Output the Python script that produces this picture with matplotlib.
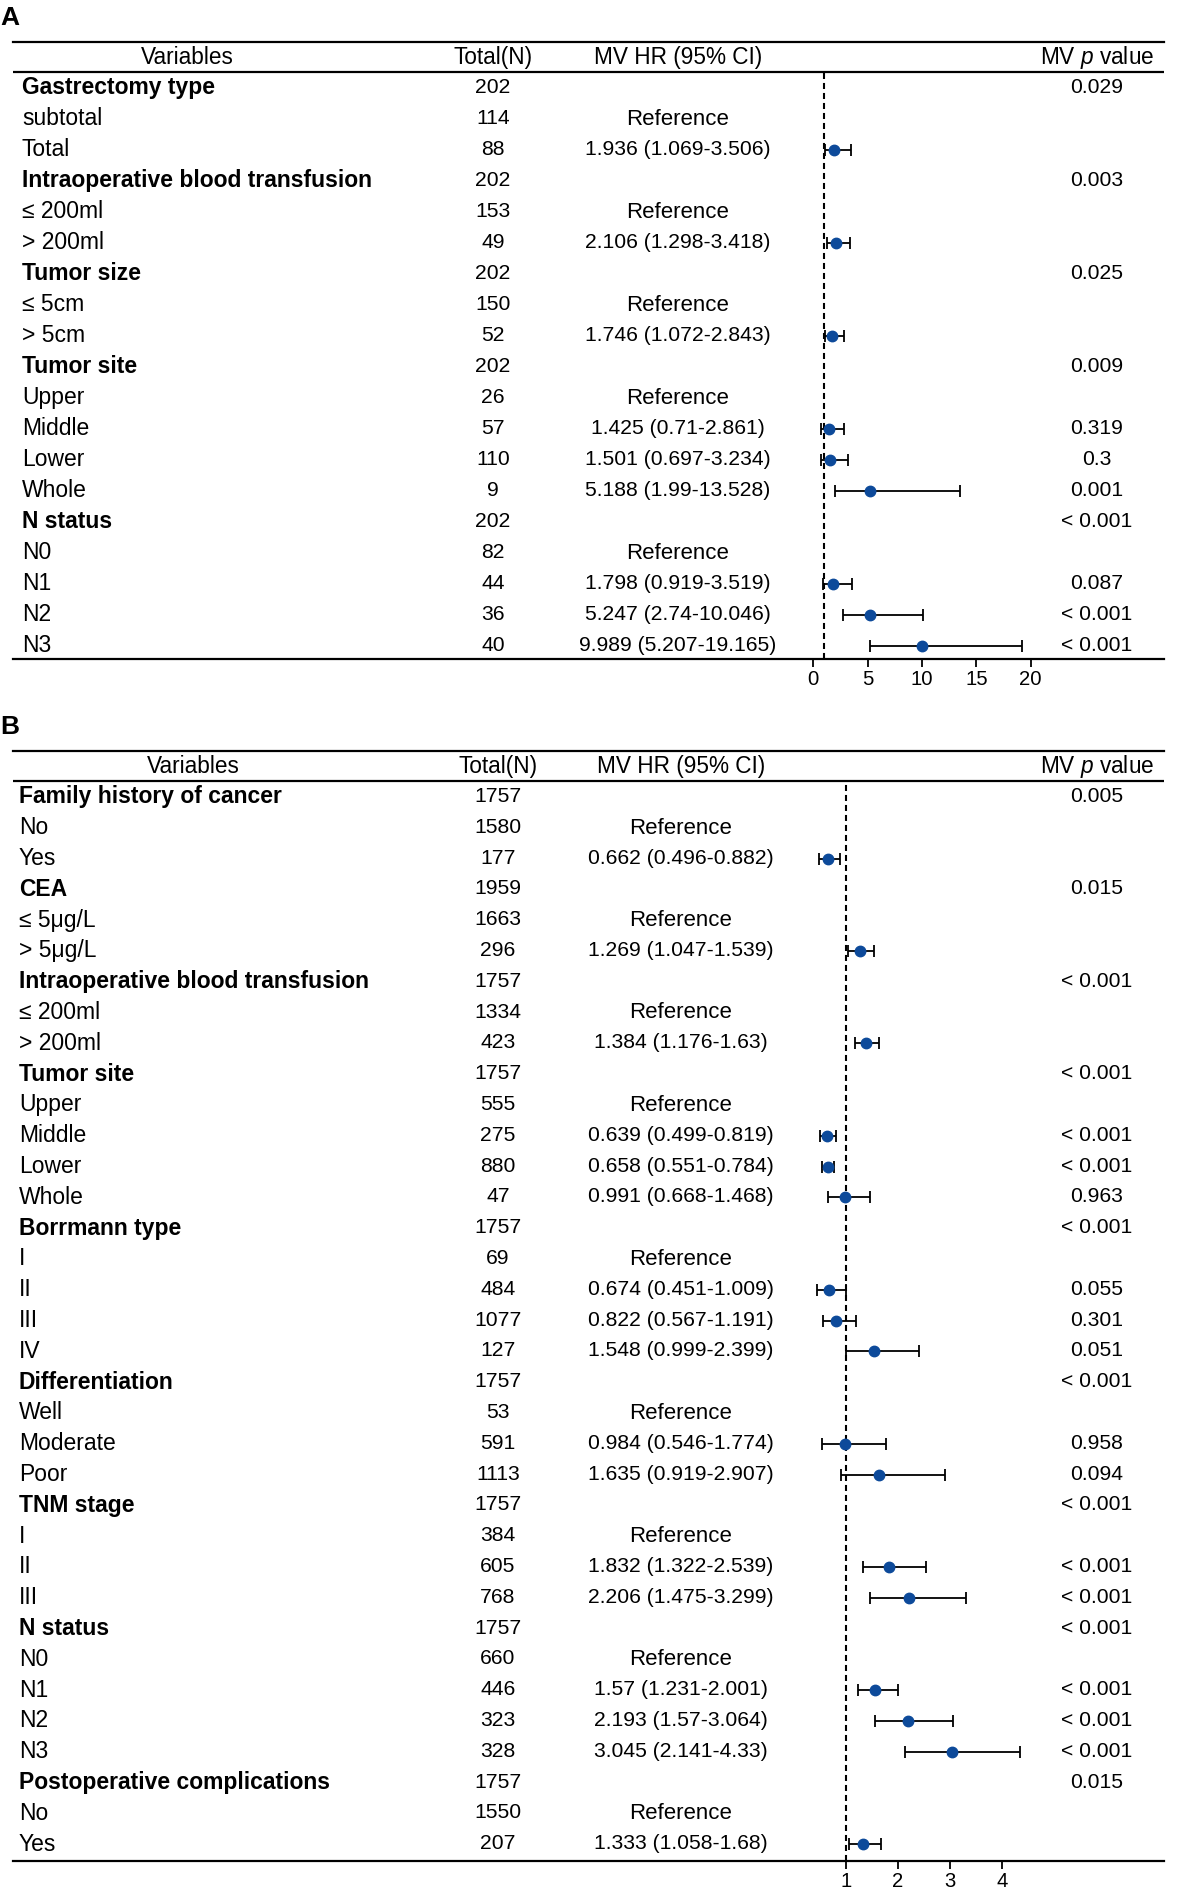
import numpy as np
import matplotlib
matplotlib.use("Agg")
import matplotlib.pyplot as plt
from matplotlib import transforms

plt.rcParams['font.family'] = ['Liberation Sans', 'DejaVu Sans']
plt.rcParams['mathtext.fontset'] = 'custom'
plt.rcParams['mathtext.it'] = 'Liberation Sans:italic'
plt.rcParams['mathtext.rm'] = 'Liberation Sans'

# ---------------- panel A data ----------------
labels_a = ["Gastrectomy type", "subtotal", "Total",
            "Intraoperative blood transfusion", "\u2264 200ml", "> 200ml",
            "Tumor size", "\u2264 5cm", "> 5cm",
            "Tumor site", "Upper", "Middle", "Lower", "Whole",
            "N status", "N0", "N1", "N2", "N3"]
kind_a = ["g", "r", "e", "g", "r", "e", "g", "r", "e",
          "g", "r", "e", "e", "e", "g", "r", "e", "e", "e"]
n_a = [202, 114, 88, 202, 153, 49, 202, 150, 52, 202, 26, 57, 110, 9,
       202, 82, 44, 36, 40]
hr_a = [np.nan, np.nan, 1.936, np.nan, np.nan, 2.106, np.nan, np.nan, 1.746,
        np.nan, np.nan, 1.425, 1.501, 5.188, np.nan, np.nan, 1.798, 5.247, 9.989]
lo_a = [np.nan, np.nan, 1.069, np.nan, np.nan, 1.298, np.nan, np.nan, 1.072,
        np.nan, np.nan, 0.71, 0.697, 1.99, np.nan, np.nan, 0.919, 2.74, 5.207]
hi_a = [np.nan, np.nan, 3.506, np.nan, np.nan, 3.418, np.nan, np.nan, 2.843,
        np.nan, np.nan, 2.861, 3.234, 13.528, np.nan, np.nan, 3.519, 10.046, 19.165]
p_a = ["0.029", "", "", "0.003", "", "", "0.025", "", "",
       "0.009", "", "0.319", "0.3", "0.001", "< 0.001", "", "0.087", "< 0.001", "< 0.001"]
ticks_a = [0, 5, 10, 15, 20]

# ---------------- panel B data ----------------
labels_b = ["Family history of cancer", "No", "Yes",
            "CEA", "\u2264 5\u03bcg/L", "> 5\u03bcg/L",
            "Intraoperative blood transfusion", "\u2264 200ml", "> 200ml",
            "Tumor site", "Upper", "Middle", "Lower", "Whole",
            "Borrmann type", "I", "II", "III", "IV",
            "Differentiation", "Well", "Moderate", "Poor",
            "TNM stage", "I", "II", "III",
            "N status", "N0", "N1", "N2", "N3",
            "Postoperative complications", "No", "Yes"]
kind_b = ["g", "r", "e", "g", "r", "e", "g", "r", "e",
          "g", "r", "e", "e", "e", "g", "r", "e", "e", "e",
          "g", "r", "e", "e", "g", "r", "e", "e",
          "g", "r", "e", "e", "e", "g", "r", "e"]
n_b = [1757, 1580, 177, 1959, 1663, 296, 1757, 1334, 423,
       1757, 555, 275, 880, 47, 1757, 69, 484, 1077, 127,
       1757, 53, 591, 1113, 1757, 384, 605, 768,
       1757, 660, 446, 323, 328, 1757, 1550, 207]
hr_b = [np.nan, np.nan, 0.662, np.nan, np.nan, 1.269, np.nan, np.nan, 1.384,
        np.nan, np.nan, 0.639, 0.658, 0.991, np.nan, np.nan, 0.674, 0.822, 1.548,
        np.nan, np.nan, 0.984, 1.635, np.nan, np.nan, 1.832, 2.206,
        np.nan, np.nan, 1.57, 2.193, 3.045, np.nan, np.nan, 1.333]
lo_b = [np.nan, np.nan, 0.496, np.nan, np.nan, 1.047, np.nan, np.nan, 1.176,
        np.nan, np.nan, 0.499, 0.551, 0.668, np.nan, np.nan, 0.451, 0.567, 0.999,
        np.nan, np.nan, 0.546, 0.919, np.nan, np.nan, 1.322, 1.475,
        np.nan, np.nan, 1.231, 1.57, 2.141, np.nan, np.nan, 1.058]
hi_b = [np.nan, np.nan, 0.882, np.nan, np.nan, 1.539, np.nan, np.nan, 1.63,
        np.nan, np.nan, 0.819, 0.784, 1.468, np.nan, np.nan, 1.009, 1.191, 2.399,
        np.nan, np.nan, 1.774, 2.907, np.nan, np.nan, 2.539, 3.299,
        np.nan, np.nan, 2.001, 3.064, 4.33, np.nan, np.nan, 1.68]
p_b = ["0.005", "", "", "0.015", "", "", "< 0.001", "", "",
       "< 0.001", "", "< 0.001", "< 0.001", "0.963", "< 0.001", "", "0.055", "0.301", "0.051",
       "< 0.001", "", "0.958", "0.094", "< 0.001", "", "< 0.001", "< 0.001",
       "< 0.001", "", "< 0.001", "< 0.001", "< 0.001", "0.015", "", ""]
ticks_b = [1, 2, 3, 4]

W, H = 1181, 1889
FS_LAB = 16.5   # variable names
FS_HEAD = 16.3  # column headers
FS_REF = 16     # "Reference"
FS_NUM = 15.2   # numbers
DOT = '#0d4a9a'

fig = plt.figure(figsize=(W / 100, H / 100), dpi=100)


def panel(letter, labels, kind, n, hr, lo, hi, p, ticks,
          top, bottom, row0, step, x0px, pxunit, cols):
    # cols: label x, N centre, HR centre, p centre, Variables header centre (pixels)
    left_px, right_px = 13, 1164
    ax = fig.add_axes([left_px / W, 1 - bottom / H, (right_px - left_px) / W, (bottom - top) / H])
    ax.set_xlim((left_px - x0px) / pxunit, (right_px - x0px) / pxunit)
    ax.set_ylim((bottom - row0) / step, (top - row0) / step)
    for s in ['left', 'right']:
        ax.spines[s].set_visible(False)
    ax.spines['top'].set_linewidth(1.6)
    ax.spines['bottom'].set_linewidth(1.6)
    ax.set_yticks([])
    ax.set_xticks(ticks)
    ax.tick_params(axis='x', length=6, width=1.3, pad=2, labelsize=14.6)
    ax.axhline((top + 30 - row0) / step, color='black', lw=1.6)

    y = np.arange(len(labels))
    hr = np.array(hr)
    lo = np.array(lo)
    hi = np.array(hi)
    ok = ~np.isnan(hr)
    ax.axvline(1, ymin=0, ymax=1 - (31 / (bottom - top)), color='black', lw=1.5,
               linestyle=(0, (2.9, 1.9)), zorder=1)
    ax.errorbar(hr[ok], y[ok], xerr=[hr[ok] - lo[ok], hi[ok] - hr[ok]], fmt='none',
                ecolor='black', elinewidth=1.3, capsize=4, capthick=1.3, zorder=2)
    ax.plot(hr[ok], y[ok], 'o', color=DOT, markersize=7.5, zorder=3)

    tr = transforms.blended_transform_factory(fig.transFigure, ax.transData)
    base = 8.0 / step          # baseline sits this far below the row centre
    hy = (top + 14 - row0) / step + base
    kw = dict(transform=tr, va='baseline', fontsize=FS_HEAD)
    ax.text(cols[4] / W, hy, "Variables", ha='center', **kw)
    ax.text(cols[1] / W, hy, "Total(N)", ha='center', **kw)
    ax.text(cols[2] / W, hy, "MV HR (95% CI)", ha='center', **kw)
    ax.text(1154 / W, hy, "MV $\\mathit{p}$ value", ha='right', **kw)

    for i in range(len(labels)):
        yb = i + base
        ax.text(cols[0] / W, yb - 0.05, labels[i], transform=tr, ha='left', va='baseline',
                fontsize=FS_LAB, fontweight='bold' if kind[i] == 'g' else 'normal')
        ax.text(cols[1] / W, yb - 0.1, str(n[i]), transform=tr, ha='center', va='baseline',
                fontsize=FS_NUM)
        if kind[i] == 'r':
            ax.text(cols[2] / W, yb - 0.07, "Reference", transform=tr, ha='center',
                    va='baseline', fontsize=FS_REF)
        elif kind[i] == 'e':
            ax.text(cols[2] / W, yb - 0.1, "%s (%s-%s)" % (hr[i], lo[i], hi[i]), transform=tr,
                    ha='center', va='baseline', fontsize=FS_NUM)
        if p[i]:
            ax.text(cols[3] / W, yb - 0.1, p[i], transform=tr, ha='center', va='baseline',
                    fontsize=FS_NUM)

    fig.text(0 / W, 1 - (top - 24) / H, letter, ha='left', va='center',
             fontsize=19, fontweight='bold')
    return ax


panel("A", labels_a, kind_a, n_a, hr_a, lo_a, hi_a, p_a, ticks_a,
      top=42, bottom=659, row0=88, step=31.0, x0px=813.3, pxunit=10.87,
      cols=[22, 493, 678, 1097, 187])
panel("B", labels_b, kind_b, n_b, hr_b, lo_b, hi_b, p_b, ticks_b,
      top=751, bottom=1861, row0=797, step=30.8, x0px=793.5, pxunit=52.2,
      cols=[19, 498, 681, 1097, 193])

fig.savefig("out.png", dpi=100)
